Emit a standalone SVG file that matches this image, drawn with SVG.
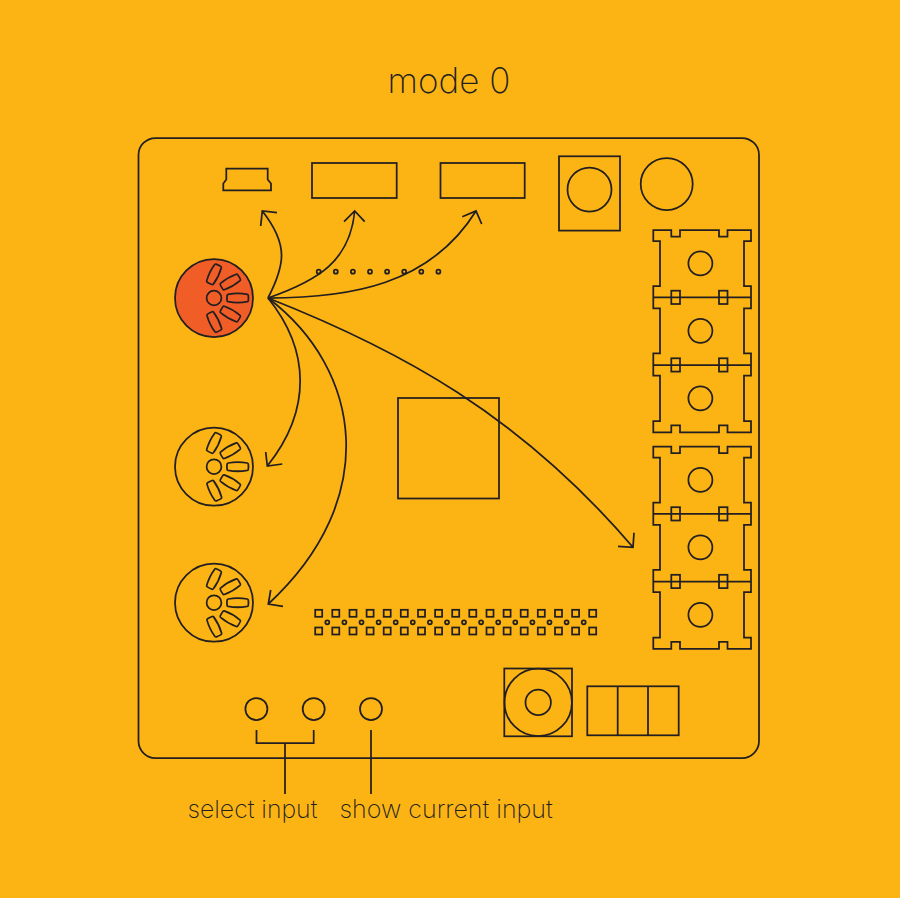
<svg xmlns="http://www.w3.org/2000/svg" xmlns:xlink="http://www.w3.org/1999/xlink" width="900" height="898" viewBox="0 0 900 898">
<style>
.l{fill:none;stroke:#231F20;stroke-width:1.75;stroke-linejoin:miter}
.s{fill:none;stroke:#231F20;stroke-width:1.75;stroke-linejoin:round}
.t{font-family:"Inter","Liberation Sans",sans-serif;font-weight:200;fill:#231F20}
</style>
<defs>
<path id="slot" class="s" d="M-9.6,-3.7Q0,-5.4 9.6,-3.7Q10.5,-3.5 10.6,-2.6Q10.9,0 10.6,2.6Q10.5,3.5 9.6,3.7Q0,5.4 -9.6,3.7Q-10.5,3.5 -10.6,2.6Q-10.9,0 -10.6,-2.6Q-10.5,-3.5 -9.6,-3.7Z"/>
<g id="jack">
<circle class="l" r="7.4" cx="0" cy="0"/>
<use xlink:href="#slot" transform="translate(23.7,0)"/>
<use xlink:href="#slot" transform="translate(16.3,-16) rotate(-30) scale(.95,1)"/>
<use xlink:href="#slot" transform="translate(16.3,16) rotate(30) scale(.95,1)"/>
<use xlink:href="#slot" transform="translate(0,-23.7) rotate(-64) scale(.95,1)"/>
<use xlink:href="#slot" transform="translate(0.3,24) rotate(64) scale(.95,1)"/>
</g>
<g id="block">
<path class="l" d="M653.3,230H671.3V236.7H680V230H719V236.7H727.5V230H751V241H744V286H751V308.3H744V353.3H751V375.7H744V421H751V432.3H727.5V425.3H719V432.3H680V425.3H671.3V432.3H653.3V421H660V375.7H653.3V353.3H660V308.3H653.3V286H660V241H653.3Z"/>
<path class="l" d="M653.3,297.3H751M653.3,365H751"/>
<rect class="l" x="671.3" y="290.7" width="8.7" height="13.3"/>
<rect class="l" x="719" y="290.7" width="8.5" height="13.3"/>
<rect class="l" x="671.3" y="358.3" width="8.7" height="13.3"/>
<rect class="l" x="719" y="358.3" width="8.5" height="13.3"/>
<circle class="l" cx="700.4" cy="263.4" r="12"/>
<circle class="l" cx="700.4" cy="330.8" r="12"/>
<circle class="l" cx="700.4" cy="398.3" r="12"/>
</g>
<rect id="pin" class="l" x="-3.5" y="-3.5" width="7" height="7"/>
<circle id="dot" class="l" r="2"/>
</defs>
<rect width="900" height="898" fill="#FCB415"/>
<text id="title" class="t" x="449" y="93" font-size="35" text-anchor="middle">mode 0</text>
<g id="board"><rect class="l" x="138.5" y="138" width="620.5" height="620" rx="17"/></g>
<g id="usb"><path class="l" d="M226.3,168.7H267.7V179.5L271,183.5V190.3H223.3V183.5L226.3,179.5Z"/></g>
<g id="port-1"><rect class="l" x="312" y="163" width="84.7" height="35"/></g>
<g id="port-2"><rect class="l" x="440.5" y="163" width="84.2" height="35"/></g>
<g id="switch"><rect class="l" x="559" y="156.3" width="61" height="74.3"/><circle class="l" cx="589.5" cy="189.5" r="22"/></g>
<g id="knob"><circle class="l" cx="666.7" cy="184" r="26"/></g>
<g id="pads">
<use xlink:href="#dot" x="318.7" y="271.7"/><use xlink:href="#dot" x="335.8" y="271.7"/><use xlink:href="#dot" x="352.9" y="271.7"/><use xlink:href="#dot" x="370" y="271.7"/><use xlink:href="#dot" x="387.1" y="271.7"/><use xlink:href="#dot" x="404.2" y="271.7"/><use xlink:href="#dot" x="421.3" y="271.7"/><use xlink:href="#dot" x="438.4" y="271.7"/>
</g>
<g id="input-1"><circle cx="214" cy="298" r="39" fill="#F15D27" stroke="#231F20" stroke-width="1.75"/><use xlink:href="#jack" x="214" y="298"/></g>
<g id="input-2"><circle class="l" cx="214" cy="466.7" r="39"/><use xlink:href="#jack" x="214" y="466.7"/></g>
<g id="input-3"><circle class="l" cx="214" cy="602.7" r="39"/><use xlink:href="#jack" x="214" y="602.7"/></g>
<g id="chip"><rect class="l" x="398" y="398" width="101" height="100.5"/></g>
<g id="blocks-top"><use xlink:href="#block"/></g>
<g id="blocks-bottom"><use xlink:href="#block" y="216.5"/></g>
<g id="header">
<use xlink:href="#pin" x="318.7" y="613.3"/><use xlink:href="#pin" x="335.8" y="613.3"/><use xlink:href="#pin" x="353" y="613.3"/><use xlink:href="#pin" x="370.1" y="613.3"/><use xlink:href="#pin" x="387.2" y="613.3"/><use xlink:href="#pin" x="404.3" y="613.3"/><use xlink:href="#pin" x="421.5" y="613.3"/><use xlink:href="#pin" x="438.6" y="613.3"/><use xlink:href="#pin" x="455.7" y="613.3"/><use xlink:href="#pin" x="472.8" y="613.3"/><use xlink:href="#pin" x="490" y="613.3"/><use xlink:href="#pin" x="507.1" y="613.3"/><use xlink:href="#pin" x="524.2" y="613.3"/><use xlink:href="#pin" x="541.3" y="613.3"/><use xlink:href="#pin" x="558.5" y="613.3"/><use xlink:href="#pin" x="575.6" y="613.3"/><use xlink:href="#pin" x="592.7" y="613.3"/>
<use xlink:href="#pin" x="318.7" y="631"/><use xlink:href="#pin" x="335.8" y="631"/><use xlink:href="#pin" x="353" y="631"/><use xlink:href="#pin" x="370.1" y="631"/><use xlink:href="#pin" x="387.2" y="631"/><use xlink:href="#pin" x="404.3" y="631"/><use xlink:href="#pin" x="421.5" y="631"/><use xlink:href="#pin" x="438.6" y="631"/><use xlink:href="#pin" x="455.7" y="631"/><use xlink:href="#pin" x="472.8" y="631"/><use xlink:href="#pin" x="490" y="631"/><use xlink:href="#pin" x="507.1" y="631"/><use xlink:href="#pin" x="524.2" y="631"/><use xlink:href="#pin" x="541.3" y="631"/><use xlink:href="#pin" x="558.5" y="631"/><use xlink:href="#pin" x="575.6" y="631"/><use xlink:href="#pin" x="592.7" y="631"/>
<use xlink:href="#dot" x="327.3" y="622.3"/><use xlink:href="#dot" x="344.4" y="622.3"/><use xlink:href="#dot" x="361.5" y="622.3"/><use xlink:href="#dot" x="378.6" y="622.3"/><use xlink:href="#dot" x="395.7" y="622.3"/><use xlink:href="#dot" x="412.8" y="622.3"/><use xlink:href="#dot" x="429.9" y="622.3"/><use xlink:href="#dot" x="447" y="622.3"/><use xlink:href="#dot" x="464" y="622.3"/><use xlink:href="#dot" x="481.1" y="622.3"/><use xlink:href="#dot" x="498.2" y="622.3"/><use xlink:href="#dot" x="515.3" y="622.3"/><use xlink:href="#dot" x="532.4" y="622.3"/><use xlink:href="#dot" x="549.5" y="622.3"/><use xlink:href="#dot" x="566.6" y="622.3"/><use xlink:href="#dot" x="583.7" y="622.3"/>
</g>
<g id="audio"><rect class="l" x="504.3" y="668.5" width="67.7" height="67.8"/><circle class="l" cx="538.2" cy="702.4" r="33.7"/><circle class="l" cx="538.2" cy="702.4" r="12.7"/></g>
<g id="terminal"><rect class="l" x="587.3" y="686.3" width="91.4" height="49"/><path class="l" d="M617.7,686.3V735.3M648,686.3V735.3"/></g>
<g id="button-1"><circle class="l" cx="256.4" cy="709" r="11"/></g>
<g id="button-2"><circle class="l" cx="313.7" cy="709" r="11"/></g>
<g id="button-3"><circle class="l" cx="371" cy="709" r="11"/></g>
<g id="connectors">
<path class="l" d="M268,298C285,265 289,245 262.3,211M277,212.7L262.3,211L260.7,226"/>
<path class="l" d="M268,298C320,280 350,260 354.7,211M344,221.7L354.7,211L364.7,221.7"/>
<path class="l" d="M268,298C350,298 430,285 476,211M462.3,216.7L476,211L481.7,224"/>
<path class="l" d="M268,298C310,350 312,410 267.3,466M265.7,452L267.3,466L282.3,464"/>
<path class="l" d="M268,298C363,370 381,500 268.3,604M270.7,590L268.3,604L283,606.3"/>
<path class="l" d="M268,298C400,350 520,415 633,547.3M618,546.3L633,547.3L634,532.7"/>
<path class="l" d="M256.5,730V743H313.7V730M285,743V794M371,730V794"/>
</g>
<text class="t" x="187.5" y="818" font-size="24.8">select input</text>
<text class="t" x="339.5" y="818" font-size="25">show current input</text>
</svg>
